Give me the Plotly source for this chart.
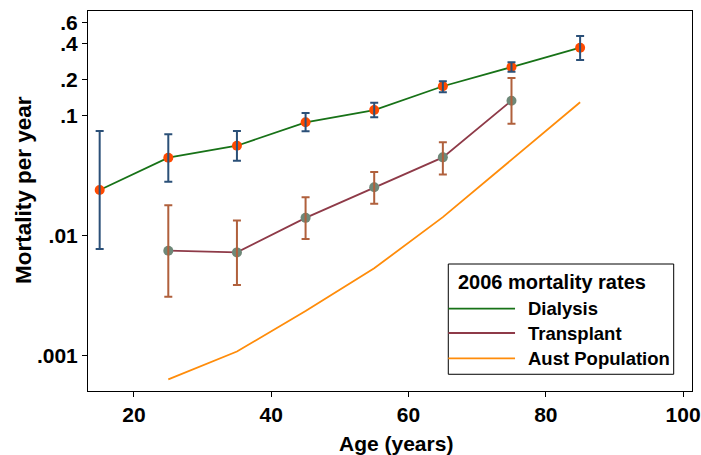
import plotly.graph_objects as go

age_dial = [15, 25, 35, 45, 55, 65, 75, 85]
dial = [0.0241, 0.0448, 0.0564, 0.0885, 0.112, 0.177, 0.256, 0.371]
dial_hi = [0.0748, 0.0702, 0.0748, 0.1057, 0.129, 0.195, 0.280, 0.464]
dial_lo = [0.00774, 0.0282, 0.0423, 0.0744, 0.0973, 0.158, 0.234, 0.293]

age_tx = [25, 35, 45, 55, 65, 75]
tx = [0.0075, 0.00726, 0.0141, 0.0254, 0.0451, 0.134]
tx_hi = [0.0180, 0.0134, 0.0210, 0.0340, 0.0602, 0.207]
tx_lo = [0.0031, 0.00388, 0.0094, 0.0185, 0.0325, 0.086]

age_pop = [25, 35, 45, 55, 65, 75, 85]
pop = [0.000633, 0.00108, 0.00235, 0.00535, 0.0143, 0.0429, 0.130]

x_ticks = [20, 40, 60, 80, 100]
y_ticks = [0.001, 0.01, 0.1, 0.2, 0.4, 0.6]
y_tick_labels = [".001", ".01", ".1", ".2", ".4", ".6"]

legend_title = "2006 mortality rates"
legend_names = ["Dialysis", "Transplant", "Aust Population"]

C_DIAL_LINE = "#177217"
C_DIAL_MARK = "#ff4a00"
C_DIAL_ERR = "#2b5078"
C_TX_LINE = "#8e3a48"
C_TX_MARK = "#6e8878"
C_TX_ERR = "#b0603c"
C_POP = "#ff8c0a"

FONT = "Liberation Sans"

fig = go.Figure()

# lines
fig.add_trace(go.Scatter(x=age_dial, y=dial, mode="lines",
                         line=dict(color=C_DIAL_LINE, width=1.8)))
fig.add_trace(go.Scatter(x=age_tx, y=tx, mode="lines",
                         line=dict(color=C_TX_LINE, width=1.8)))
fig.add_trace(go.Scatter(x=age_pop, y=pop, mode="lines",
                         line=dict(color=C_POP, width=1.8)))

# markers
fig.add_trace(go.Scatter(x=age_dial, y=dial, mode="markers",
                         marker=dict(color=C_DIAL_MARK, size=10)))
fig.add_trace(go.Scatter(x=age_tx, y=tx, mode="markers",
                         marker=dict(color=C_TX_MARK, size=10)))

# error bars on top
fig.add_trace(go.Scatter(
    x=age_dial, y=dial, mode="markers",
    marker=dict(color="rgba(0,0,0,0)", size=1),
    error_y=dict(type="data", symmetric=False,
                 array=[h - v for h, v in zip(dial_hi, dial)],
                 arrayminus=[v - l for l, v in zip(dial_lo, dial)],
                 color=C_DIAL_ERR, thickness=2, width=4)))
fig.add_trace(go.Scatter(
    x=age_tx, y=tx, mode="markers",
    marker=dict(color="rgba(0,0,0,0)", size=1),
    error_y=dict(type="data", symmetric=False,
                 array=[h - v for h, v in zip(tx_hi, tx)],
                 arrayminus=[v - l for l, v in zip(tx_lo, tx)],
                 color=C_TX_ERR, thickness=2, width=4)))

# manual legend (paper coords)
lx0, lx1 = 0.5965, 0.9697
ly0, ly1 = 0.044, 0.3342
fig.add_shape(type="rect", xref="paper", yref="paper", x0=lx0, x1=lx1, y0=ly0, y1=ly1,
              line=dict(color="black", width=1), fillcolor="white", layer="above")
row_y = [0.2166, 0.1526, 0.086]
row_col = [C_DIAL_LINE, C_TX_LINE, C_POP]
for name, yy, col in zip(legend_names, row_y, row_col):
    fig.add_shape(type="line", xref="paper", yref="paper", x0=lx0, x1=0.707, y0=yy, y1=yy,
                  line=dict(color=col, width=1.8), layer="above")
    fig.add_annotation(xref="paper", yref="paper", x=0.7252, y=yy, text=name,
                       showarrow=False, xanchor="left", yanchor="middle",
                       font=dict(family=FONT, size=18.5, color="black", weight="bold"))
fig.add_annotation(xref="paper", yref="paper", x=0.768, y=0.2876, text=legend_title,
                   showarrow=False, xanchor="center", yanchor="middle",
                   font=dict(family=FONT, size=20, color="black", weight="bold"))

# axis titles
fig.add_annotation(xref="paper", yref="paper", x=0.51, y=-0.137, text="Age (years)",
                   showarrow=False, xanchor="center", yanchor="middle",
                   font=dict(family=FONT, size=21, color="black", weight="bold"))
fig.add_annotation(xref="paper", yref="paper", x=-0.106, y=0.529, text="Mortality per year",
                   showarrow=False, xanchor="center", yanchor="middle", textangle=-90,
                   font=dict(family=FONT, size=22.5, color="black", weight="bold"))

fig.update_layout(
    width=701, height=455,
    margin=dict(l=88, r=9, t=11, b=64, autoexpand=False),
    paper_bgcolor="white", plot_bgcolor="white",
    showlegend=False,
    font=dict(family=FONT, size=21, color="black", weight="bold"),
)
fig.update_xaxes(range=[13.3, 101.3], tickvals=x_ticks, ticks="outside", ticklen=5,
                 tickcolor="black", showgrid=False, zeroline=False, showline=True,
                 linecolor="black", linewidth=1, mirror=True, automargin=False,
                 tickfont=dict(family=FONT, size=21, color="black", weight="bold"))
fig.update_yaxes(type="log", range=[-3.296, -0.124], tickvals=y_ticks, ticktext=y_tick_labels,
                 ticks="outside", ticklen=5, tickcolor="black", showgrid=False,
                 zeroline=False, showline=True, linecolor="black", linewidth=1, mirror=True,
                 automargin=False,
                 tickfont=dict(family=FONT, size=21, color="black", weight="bold"))

fig.write_html("out.html", config={"displayModeBar": False},
               post_script="document.body.style.margin='0';document.body.style.overflow='hidden';")
